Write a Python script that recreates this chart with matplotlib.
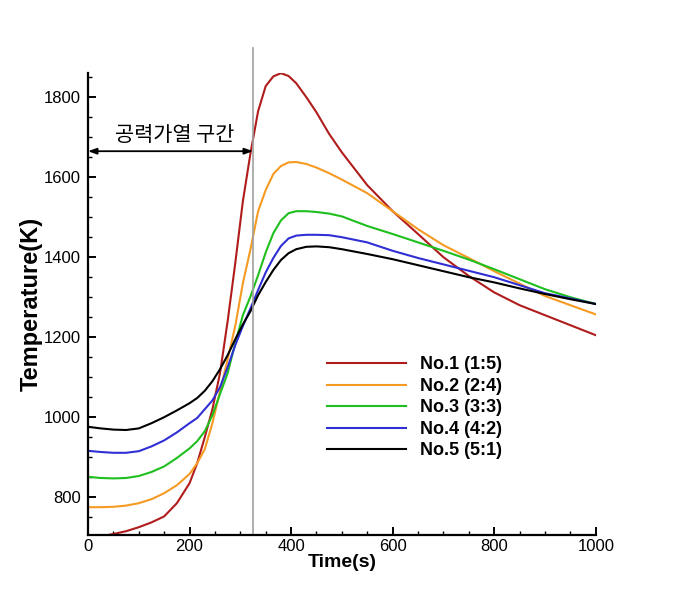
import numpy as np
import matplotlib.pyplot as plt
from matplotlib.ticker import MultipleLocator

plt.rcParams['font.family'] = ['Liberation Sans', 'Noto Sans CJK KR', 'DejaVu Sans']

# time grid (s)
time = [0, 25, 50, 75, 100, 125, 150, 175, 200, 215, 230, 245, 260, 275, 290, 305, 320,
        335, 350, 365, 380, 395, 410, 430, 450, 475, 500, 550, 600, 650, 700, 750, 800,
        850, 900, 950, 1000]

# temperature (K)
no1 = [700, 702, 708, 715, 725, 737, 752, 785, 835, 885, 950, 1020, 1110, 1240, 1385, 1540, 1660,
       1765, 1828, 1852, 1860, 1853, 1835, 1800, 1762, 1708, 1662, 1580, 1515, 1458, 1400, 1353, 1312,
       1280, 1255, 1230, 1205]
no2 = [775, 775, 776, 779, 785, 795, 810, 830, 858, 885, 920, 985, 1065, 1145, 1228, 1335, 1420,
       1515, 1568, 1608, 1628, 1637, 1638, 1633, 1624, 1610, 1594, 1560, 1515, 1470, 1430, 1398, 1365,
       1334, 1303, 1280, 1257]
no3 = [851, 848, 847, 848, 853, 863, 877, 898, 922, 940, 965, 1005, 1058, 1110, 1185, 1255, 1302,
       1355, 1412, 1460, 1492, 1510, 1515, 1515, 1513, 1509, 1502, 1478, 1458, 1437, 1416, 1394, 1370,
       1345, 1320, 1300, 1283]
no4 = [916, 913, 911, 911, 915, 927, 942, 962, 985, 998, 1020, 1042, 1075, 1125, 1180, 1228, 1272,
       1318, 1362, 1398, 1428, 1447, 1454, 1456, 1456, 1455, 1450, 1437, 1416, 1398, 1382, 1366, 1350,
       1330, 1310, 1297, 1283]
no5 = [976, 972, 969, 968, 972, 985, 1000, 1017, 1035, 1048, 1066, 1090, 1120, 1155, 1195, 1232, 1265,
       1305, 1338, 1368, 1393, 1410, 1420, 1426, 1427, 1425, 1420, 1408, 1395, 1380, 1365, 1350, 1337,
       1322, 1308, 1295, 1283]

labels = ['No.1 (1:5)', 'No.2 (2:4)', 'No.3 (3:3)', 'No.4 (4:2)', 'No.5 (5:1)']
colors = ['#b01c1c', '#f59b23', '#1fbf1f', '#2f2fd5', '#000000']

heat_end = 325  # end of aerodynamic heating

fig = plt.figure(figsize=(6.77, 6.0), dpi=100)
ax = fig.add_axes([0.130, 0.108, 0.750, 0.770])

for y, lab, c in zip([no1, no2, no3, no4, no5], labels, colors):
    ax.plot(time, y, color=c, lw=1.5, label=lab)

ax.axvline(heat_end, ymin=0, ymax=1.054, color='#a0a0a0', lw=1.2, clip_on=False)

ax.annotate('', xy=(0, 1665), xytext=(heat_end, 1665),
            arrowprops=dict(arrowstyle='<|-|>,head_length=0.5,head_width=0.18',
                            color='black', lw=1.3, shrinkA=0, shrinkB=0))
ax.text(170, 1706, '공력가열 구간', family=['Noto Sans CJK KR', 'DejaVu Sans'],
        fontsize=15, ha='center', va='center')

ax.set_xlim(0, 1000)
ax.set_ylim(705, 1860)
ax.xaxis.set_major_locator(MultipleLocator(200))
ax.xaxis.set_minor_locator(MultipleLocator(50))
ax.yaxis.set_major_locator(MultipleLocator(200))
ax.yaxis.set_minor_locator(MultipleLocator(50))

ax.spines['top'].set_visible(False)
ax.spines['right'].set_visible(False)
ax.spines['left'].set_linewidth(1.6)
ax.spines['bottom'].set_linewidth(1.6)
ax.tick_params(which='major', direction='in', length=6, width=1.4, labelsize=12)
ax.tick_params(which='minor', direction='in', length=3, width=1.0)
ax.tick_params(axis='y', which='major', pad=5)
ax.tick_params(axis='x', which='major', pad=3)

ax.set_xlabel('Time(s)', fontsize=14, fontweight='bold', labelpad=0)
ax.set_ylabel('Temperature(K)', fontsize=17, fontweight='bold', labelpad=1)

ax.legend(loc='upper left', bbox_to_anchor=(0.470, 0.387), frameon=False,
          prop={'weight': 'bold', 'size': 13}, handlelength=4.4, handletextpad=0.75,
          labelspacing=0.25, borderpad=0, borderaxespad=0)

fig.savefig('out.png', dpi=100)
